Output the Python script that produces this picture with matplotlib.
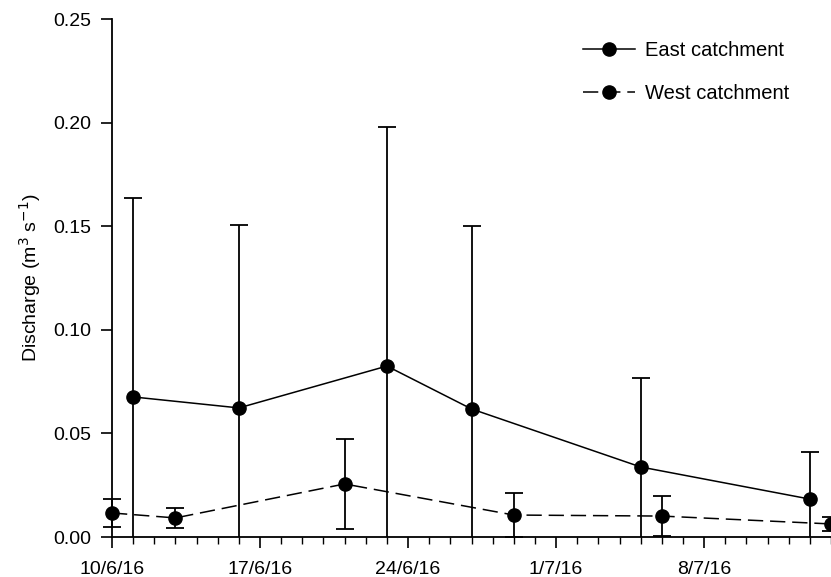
import matplotlib
matplotlib.use("Agg")
import matplotlib.pyplot as plt
import matplotlib.dates as mdates
from matplotlib.lines import Line2D
import pandas as pd

plt.rcParams['font.family'] = ['Liberation Sans', 'DejaVu Sans']

# Data
east_dates = ["2016-06-11", "2016-06-16", "2016-06-23", "2016-06-27", "2016-07-05", "2016-07-13"]
east_mean = [0.0676, 0.0623, 0.0825, 0.0618, 0.0338, 0.0183]
east_err = [0.0961, 0.0884, 0.1155, 0.0885, 0.0429, 0.0227]

west_dates = ["2016-06-10", "2016-06-13", "2016-06-21", "2016-06-29", "2016-07-06", "2016-07-14"]
west_mean = [0.0116, 0.0092, 0.0256, 0.0106, 0.0101, 0.0063]
west_err = [0.0068, 0.0050, 0.0218, 0.0107, 0.0097, 0.0034]

tick_dates = ["2016-06-10", "2016-06-17", "2016-06-24", "2016-07-01", "2016-07-08"]
tick_labels = ["10/6/16", "17/6/16", "24/6/16", "1/7/16", "8/7/16"]
y_ticks = [0.00, 0.05, 0.10, 0.15, 0.20, 0.25]

ed = pd.to_datetime(east_dates)
wd = pd.to_datetime(west_dates)
td = pd.to_datetime(tick_dates)

DASH = (10, 4.5)

fig = plt.figure(figsize=(8.31, 5.77), dpi=100)
ax = fig.add_axes([112/831, 40/577, 719/831, 518/577])

ax.errorbar(ed, east_mean, yerr=east_err, fmt='-o', color='black', lw=1.1,
            ms=9.5, capsize=6.5, elinewidth=1.3, capthick=1.3, clip_on=True,
            zorder=3)
ax.errorbar(wd, west_mean, yerr=west_err, fmt='--o', color='black', lw=1.1,
            ms=9.5, capsize=6.5, elinewidth=1.3, capthick=1.3, clip_on=False,
            dashes=DASH, zorder=3)

ax.set_xlim(pd.Timestamp("2016-06-10"), pd.Timestamp("2016-07-14"))
ax.set_ylim(0, 0.25)
ax.set_xticks(td)
ax.set_xticklabels(tick_labels)
ax.xaxis.set_minor_locator(mdates.DayLocator())
ax.set_yticks(y_ticks)
ax.set_yticklabels([f"{v:.2f}" for v in y_ticks])

for s in ['top', 'right']:
    ax.spines[s].set_visible(False)
for s in ['left', 'bottom']:
    ax.spines[s].set_linewidth(1.3)

ax.tick_params(axis='both', which='major', direction='out', length=8, width=1.2,
               labelsize=14, colors='black')
ax.tick_params(axis='x', which='minor', direction='out', length=5, width=1.0)
ax.tick_params(axis='x', which='major', pad=9)
ax.tick_params(axis='y', which='major', pad=7)

ax.set_ylabel("Discharge (m$^{3}$ s$^{-1}$)", fontsize=14, labelpad=7.5)

h_east = Line2D([], [], color='black', lw=1.1, marker='o', ms=9.5)
h_west = Line2D([], [], color='black', lw=1.1, marker='o', ms=9.5, ls='--', dashes=DASH)
ax.legend([h_east, h_west], ["East catchment", "West catchment"],
          loc='upper left', bbox_to_anchor=((583 - 112) / 719, 1.0 - 22/518),
          frameon=False, fontsize=14.5, handlelength=2.6, handletextpad=0.5,
          labelspacing=1.2, borderaxespad=0.0, borderpad=0.0)

fig.savefig("out.png", dpi=100)
